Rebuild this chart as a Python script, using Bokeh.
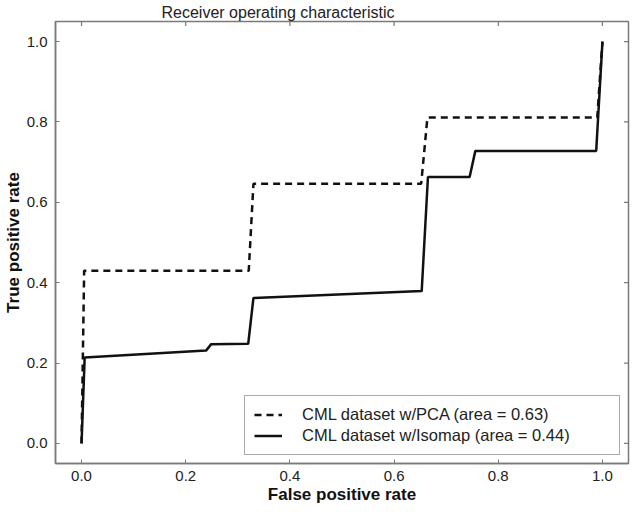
import math
from bokeh.plotting import figure
from bokeh.models import LinearAxis, FixedTicker, PrintfTickFormatter, Range1d, Legend, LegendItem
from bokeh.embed import file_html
from bokeh.resources import INLINE

# data
pca_fpr = [0.0, 0.005, 0.321, 0.330, 0.652, 0.664, 0.990, 1.0]
pca_tpr = [0.0, 0.430, 0.430, 0.646, 0.646, 0.811, 0.811, 1.0]

iso_fpr = [0.0, 0.006, 0.239, 0.249, 0.320, 0.330, 0.653, 0.665, 0.745, 0.756, 0.988, 1.0]
iso_tpr = [0.0, 0.214, 0.231, 0.247, 0.248, 0.362, 0.379, 0.663, 0.663, 0.728, 0.728, 1.0]

ticks = [0.0, 0.2, 0.4, 0.6, 0.8, 1.0]
pca_label = "CML dataset w/PCA (area = 0.63)"
iso_label = "CML dataset w/Isomap (area = 0.44)"

FONT = "Liberation Sans"
GRAY = "#7a7a7a"
TXT = "#222222"

xr = Range1d(-0.05, 1.05)
yr = Range1d(-0.05, 1.05)

p = figure(frame_width=573, frame_height=442, output_backend="svg", toolbar_location=None,
           x_range=xr, y_range=yr,
           x_axis_location=None, y_axis_location=None,
           min_border_left=0, min_border_right=3, min_border_top=0, min_border_bottom=0)

p.title.text = "Receiver operating characteristic"
p.title.align = "left"
p.title.offset = 106
p.title.text_font = FONT
p.title.text_font_size = "16px"
p.title.text_font_style = "normal"
p.title.text_color = TXT
p.title.standoff = 2

p.grid.visible = False
p.outline_line_color = GRAY
p.outline_line_width = 1.5
p.background_fill_color = "white"
p.border_fill_color = "white"

def style_axis(ax):
    ax.ticker = FixedTicker(ticks=ticks)
    ax.formatter = PrintfTickFormatter(format="%.1f")
    ax.major_tick_in = 4
    ax.major_tick_out = 0
    ax.minor_tick_line_color = None
    ax.major_tick_line_color = GRAY
    ax.axis_line_color = GRAY
    ax.axis_line_width = 1.5
    ax.major_label_text_font = FONT
    ax.major_label_text_color = TXT
    ax.major_label_text_font_size = "15px"
    ax.axis_label_text_font = FONT
    ax.axis_label_text_font_size = "17px"
    ax.axis_label_text_font_style = "bold"
    ax.axis_label_text_color = "#111111"

xb = LinearAxis(axis_label="False positive rate")
style_axis(xb)
xb.major_label_standoff = 7
xb.axis_label_standoff = 1
p.add_layout(xb, "below")

yl = LinearAxis(axis_label="True positive rate")
style_axis(yl)
yl.major_label_standoff = 8
yl.axis_label_standoff = 1
p.add_layout(yl, "left")

# mirrored inward ticks on the top and right edges (clipped to the frame)
p.scatter(x=ticks, y=[yr.end] * len(ticks), marker="dash", angle=math.pi / 2,
          size=9, line_color=GRAY, line_width=1.2)
p.scatter(x=[xr.end] * len(ticks), y=ticks, marker="dash",
          size=9, line_color=GRAY, line_width=1.2)

r_pca = p.line(pca_fpr, pca_tpr, line_color="#111111", line_width=2.5, line_dash="7 5")
r_iso = p.line(iso_fpr, iso_tpr, line_color="#111111", line_width=2.5)

legend = Legend(items=[LegendItem(label=pca_label, renderers=[r_pca]),
                       LegendItem(label=iso_label, renderers=[r_iso])],
                location="bottom_right")
legend.margin = 8
legend.padding = 9
legend.spacing = 2
legend.glyph_width = 28
legend.glyph_height = 19
legend.label_height = 19
legend.label_standoff = 20
legend.label_width = 308
legend.label_text_font = FONT
legend.label_text_font_size = "16.5px"
legend.label_text_color = TXT
legend.border_line_color = "#555555"
legend.border_line_width = 1.5
legend.background_fill_alpha = 1.0
p.add_layout(legend, "center")

open("out.html", "w").write(file_html(p, INLINE))
